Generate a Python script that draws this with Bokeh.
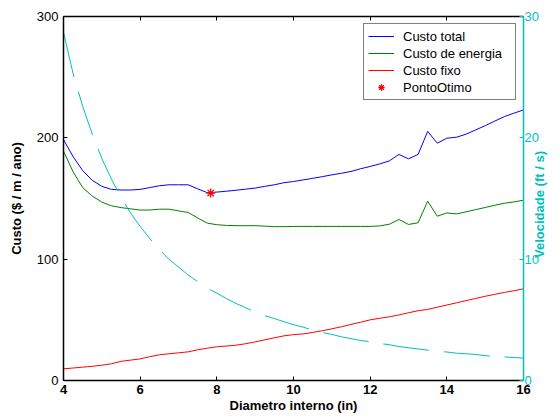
from math import pi

from bokeh.plotting import figure
from bokeh.models import Range1d, LinearAxis, FixedTicker
from bokeh.embed import file_html
from bokeh.resources import INLINE

# Internal pipe diameter (in)
diametro = [4.00, 4.25, 4.50, 4.75, 5.00, 5.25, 5.50, 5.75, 6.00, 6.25,
            6.50, 6.75, 7.00, 7.25, 7.50, 7.75, 8.00, 8.25, 8.50, 8.75,
            9.00, 9.25, 9.50, 9.75, 10.00, 10.25, 10.50, 10.75, 11.00, 11.25,
            11.50, 11.75, 12.00, 12.25, 12.50, 12.75, 13.00, 13.25, 13.50, 13.75,
            14.00, 14.25, 14.50, 14.75, 15.00, 15.25, 15.50, 15.75, 16.00]

# Total annual cost ($ / m / ano)
custo_total = [198.5, 184.5, 173.0, 165.0, 160.0, 157.5, 157.0, 157.0, 157.5, 159.0,
               160.5, 161.3, 161.3, 161.3, 158.0, 154.8, 155.3, 156.0, 156.8, 157.7,
               158.6, 160.0, 161.3, 163.0, 164.0, 165.3, 166.6, 168.0, 169.5, 170.8,
               172.3, 174.5, 176.4, 178.5, 181.0, 186.3, 182.7, 186.3, 205.3, 195.6,
               199.7, 200.5, 203.0, 206.5, 210.0, 213.8, 217.5, 220.3, 223.0]

# Pumping energy cost ($ / m / ano)
custo_energia = [189.0, 172.0, 159.0, 152.0, 147.0, 144.0, 142.5, 141.5, 140.5, 140.5,
                 141.2, 141.2, 139.8, 138.5, 134.0, 129.7, 128.4, 127.8, 127.6, 127.6,
                 127.6, 127.2, 126.8, 126.8, 127.0, 127.0, 127.0, 127.0, 127.0, 127.0,
                 127.0, 127.0, 127.0, 127.4, 128.8, 132.7, 128.6, 130.0, 147.8, 135.4,
                 138.1, 137.3, 139.0, 140.8, 142.6, 144.4, 146.1, 147.2, 148.6]

# Fixed (pipe) cost ($ / m / ano)
custo_fixo = [9.6, 10.3, 11.0, 11.7, 12.6, 13.8, 15.8, 16.8, 17.8, 19.6,
              21.2, 22.0, 22.8, 23.6, 25.3, 26.6, 27.8, 28.4, 29.1, 30.3,
              31.8, 33.5, 35.2, 36.8, 37.8, 38.4, 39.6, 41.0, 42.6, 44.3,
              46.2, 48.0, 50.0, 51.3, 52.5, 54.0, 55.8, 57.5, 58.6, 60.4,
              62.2, 64.0, 65.8, 67.6, 69.4, 71.0, 72.6, 74.0, 75.5]

# Flow velocity (ft / s)
velocidade = [28.7, 25.3, 22.6, 20.3, 18.3, 16.6, 15.1, 13.8, 12.7, 11.7,
              10.8, 10.0, 9.35, 8.7, 8.15, 7.6, 7.2, 6.75, 6.35, 6.0,
              5.65, 5.35, 5.1, 4.85, 4.6, 4.4, 4.15, 3.95, 3.8, 3.6,
              3.45, 3.3, 3.2, 3.05, 2.95, 2.8, 2.7, 2.6, 2.5, 2.4,
              2.35, 2.25, 2.2, 2.15, 2.05, 1.98, 1.94, 1.9, 1.84]

# Optimum point (minimum total cost)
otimo_d = [7.84]
otimo_custo = [154.5]

x_ticks = [4, 6, 8, 10, 12, 14, 16]
custo_ticks = [0, 100, 200, 300]
vel_ticks = [0, 10, 20, 30]

FONT = "Liberation Sans"
CYAN = "#00BFBF"
BLUE = "#0000FF"
GREEN = "#008000"
RED = "#FF0000"

p = figure(width=559, height=416, x_range=Range1d(4, 16), y_range=Range1d(0, 300),
           output_backend="svg", toolbar_location=None,
           min_border_left=63, min_border_right=36, min_border_top=16, min_border_bottom=36)
p.outline_line_color = None
p.xgrid.visible = False
p.ygrid.visible = False
p.background_fill_color = "white"
p.border_fill_color = "white"

def style_axis(ax, color="black", bold_labels=False):
    ax.axis_line_color = color
    ax.axis_line_width = 1.5
    ax.major_tick_line_color = color
    ax.major_tick_in = 4
    ax.major_tick_out = 0
    ax.minor_tick_line_color = None
    ax.major_label_text_font = FONT
    ax.major_label_text_font_size = "13px"
    ax.major_label_text_color = color
    ax.major_label_text_font_style = "bold" if bold_labels else "normal"
    ax.axis_label_text_font = FONT
    ax.axis_label_text_font_size = "13px"
    ax.axis_label_text_font_style = "bold"
    ax.axis_label_text_color = color

xax = p.xaxis[0]
xax.ticker = FixedTicker(ticks=x_ticks)
xax.axis_label = "Diametro interno (in)"
style_axis(xax, bold_labels=True)
xax.major_label_standoff = 4
xax.axis_label_standoff = 1

yax = p.yaxis[0]
yax.ticker = FixedTicker(ticks=custo_ticks)
yax.axis_label = "Custo ($ / m / ano)"
style_axis(yax)
yax.major_label_standoff = 5
yax.axis_label_standoff = 10

# Box edge along the top with inward ticks, no labels
top = LinearAxis(ticker=FixedTicker(ticks=x_ticks))
style_axis(top)
top.major_label_overrides = {t: "" for t in x_ticks}
top.major_label_standoff = 0
p.add_layout(top, "above")

# Secondary axis for the velocity
p.extra_y_ranges = {"vel": Range1d(0, 30)}
rax = LinearAxis(y_range_name="vel", ticker=FixedTicker(ticks=vel_ticks))
style_axis(rax, color=CYAN)
rax.major_label_standoff = 1
p.add_layout(rax, "right")

# Velocity title: a bare outer axis carrying one rotated label (reads bottom-to-top)
titulo_pos = 10.1
tax = LinearAxis(y_range_name="vel", ticker=FixedTicker(ticks=[titulo_pos]))
style_axis(tax, color=CYAN)
tax.axis_line_color = None
tax.major_tick_line_color = None
tax.major_tick_in = 0
tax.major_label_standoff = -2
tax.major_label_text_font_style = "bold"
tax.major_label_overrides = {titulo_pos: "Velocidade (ft / s)"}
tax.major_label_orientation = pi / 2
p.add_layout(tax, "right")

p.line(diametro, custo_total, line_color=BLUE, line_width=1, legend_label="Custo total")
p.line(diametro, custo_energia, line_color=GREEN, line_width=1, legend_label="Custo de energia")
p.line(diametro, custo_fixo, line_color=RED, line_width=1, legend_label="Custo fixo")
p.line(diametro, velocidade, y_range_name="vel", line_color=CYAN, line_width=1,
       line_dash="46 15")
p.scatter(otimo_d, otimo_custo, marker="asterisk", size=9,
          line_color=RED, line_width=1.3, legend_label="PontoOtimo")

legend = p.legend[0]
legend.location = "top_right"
legend.margin = 7
legend.padding = 4
legend.spacing = 1
legend.glyph_width = 26
legend.glyph_height = 16
legend.label_height = 16
legend.label_standoff = 9
legend.label_width = 108
legend.label_text_font = FONT
legend.label_text_font_size = "13px"
legend.label_text_color = "black"
legend.border_line_color = "black"
legend.border_line_width = 1
legend.background_fill_color = "white"
legend.background_fill_alpha = 1

open("out.html", "w").write(file_html(p, INLINE))
